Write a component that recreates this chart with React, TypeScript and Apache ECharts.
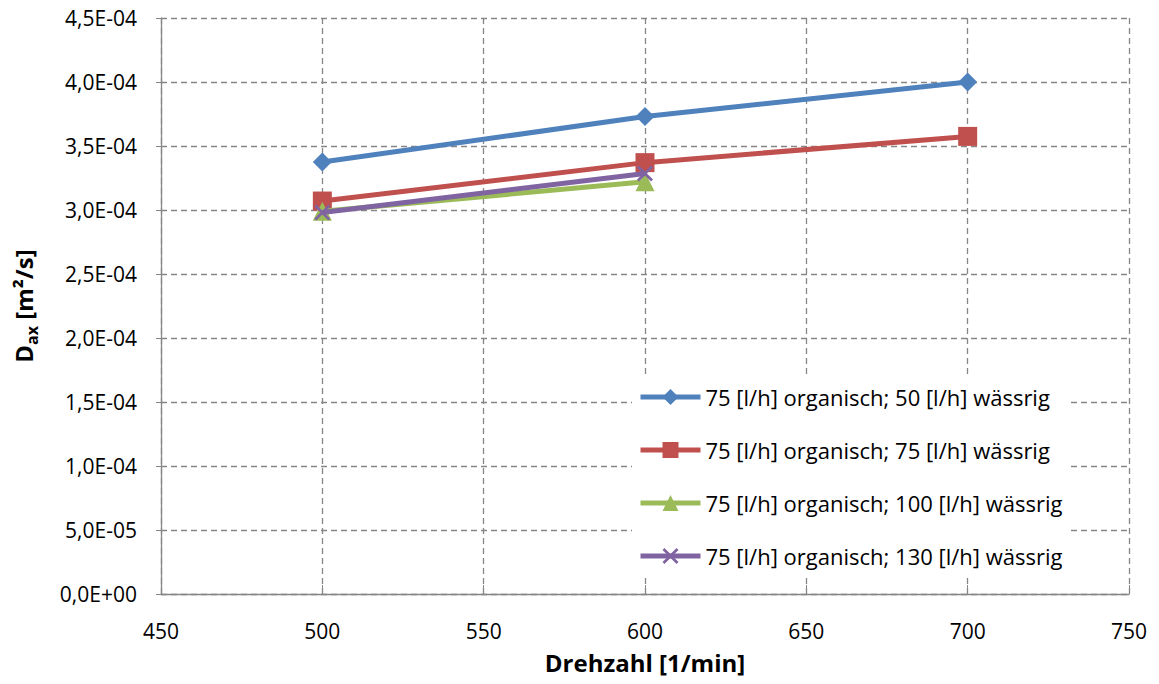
import React, { useEffect, useRef } from "react";
import * as echarts from "echarts";

const xValues = [500, 600, 700];
const seriesNames = [
  "75 [l/h] organisch; 50 [l/h] wässrig",
  "75 [l/h] organisch; 75 [l/h] wässrig",
  "75 [l/h] organisch; 100 [l/h] wässrig",
  "75 [l/h] organisch; 130 [l/h] wässrig",
];
const blueValues = [3.375e-4, 3.73e-4, 4.0e-4];
const redValues = [3.07e-4, 3.37e-4, 3.575e-4];
const greenValues = [2.99e-4, 3.22e-4];
const purpleValues = [2.98e-4, 3.285e-4];
const colors = ["#4F81BD", "#C0504D", "#9BBB59", "#8064A2"];

const CROSS = "path://M0,1.2L1.2,0L5,3.8L8.8,0L10,1.2L6.2,5L10,8.8L8.8,10L5,6.2L1.2,10L0,8.8L3.8,5Z";

const FONT = "Open Sans";

function fmtExp(v: number): string {
  if (Math.abs(v) < 1e-12) return "0,0E+00";
  const e = Math.floor(Math.log10(Math.abs(v)) + 1e-9);
  const m = v / Math.pow(10, e);
  const sign = e < 0 ? "-" : "+";
  const ea = Math.abs(e);
  return m.toFixed(1).replace(".", ",") + "E" + sign + (ea < 10 ? "0" : "") + ea;
}

export default function App() {
  const ref = useRef<HTMLDivElement>(null);
  useEffect(() => {
    if (!ref.current) return;
    const chart = echarts.init(ref.current, undefined, { renderer: "svg" });
    const mk = (vals: number[]) => vals.map((v, i) => [xValues[i], v]);
    const symbols = ["diamond", "rect", "triangle", CROSS];
    const sizes = [19, 19, 19, 16];
    const datas = [blueValues, redValues, greenValues, purpleValues];
    chart.setOption({
      animation: false,
      textStyle: { fontFamily: FONT },
      grid: { left: 161, right: 30, top: 18, bottom: 90, containLabel: false },
      legend: {
        orient: "vertical",
        left: 632,
        top: 378,
        itemWidth: 60,
        itemHeight: 20,
        itemGap: 31,
        backgroundColor: "#ffffff",
        padding: [8, 6, 8, 6],
        lineStyle: { width: 5 },
        textStyle: { fontSize: 22, color: "#000", fontFamily: FONT },
        data: seriesNames,
      },
      xAxis: {
        type: "value",
        min: 450,
        max: 750,
        interval: 50,
        name: "Drehzahl [1/min]",
        nameLocation: "middle",
        nameGap: 56,
        nameTextStyle: { fontSize: 24, fontWeight: "bold", color: "#000", fontFamily: FONT },
        axisLine: { lineStyle: { color: "#868686", width: 1.3 } },
        axisTick: { show: true, inside: true, length: 9, lineStyle: { color: "#868686" } },
        axisLabel: { fontSize: 21, color: "#000", margin: 26, fontFamily: FONT },
        splitLine: { show: true, lineStyle: { color: "#868686", type: [6, 4], width: 1.3 } },
      },
      yAxis: {
        type: "value",
        min: 0,
        max: 4.5e-4,
        interval: 0.5e-4,
        name: "{b|D}{s|ax}{b| [m²/s]}",
        nameLocation: "middle",
        nameGap: 126,
        nameRotate: 90,
        nameTextStyle: {
          rich: {
            b: { fontSize: 24, fontWeight: "bold", color: "#000", fontFamily: FONT, verticalAlign: "bottom" },
            s: { fontSize: 16, fontWeight: "bold", color: "#000", fontFamily: FONT, verticalAlign: "bottom", padding: [0, 0, -5, 0] },
          },
        },
        axisLine: { show: true, lineStyle: { color: "#868686", width: 1.3 } },
        axisTick: { show: true, length: 5, lineStyle: { color: "#868686" } },
        axisLabel: { fontSize: 21, color: "#000", margin: 24, fontFamily: FONT, formatter: (v: number) => fmtExp(v) },
        splitLine: { show: true, lineStyle: { color: "#868686", type: [6, 4], width: 1.3 } },
      },
      series: datas.map((d, i) => ({
        name: seriesNames[i],
        type: "line",
        data: mk(d),
        symbol: symbols[i],
        symbolSize: sizes[i],
        showAllSymbol: true,
        lineStyle: { color: colors[i], width: 5 },
        itemStyle: { color: colors[i] },
        z: 2 + i,
      })),
    });
    return () => chart.dispose();
  }, []);
  return <div ref={ref} style={{ width: 1159, height: 684, margin: -8 }} />;
}
